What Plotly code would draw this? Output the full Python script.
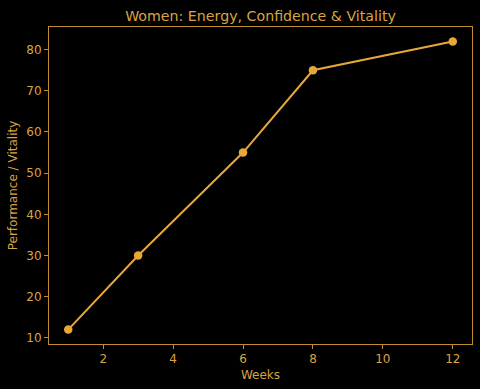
import plotly.graph_objects as go

weeks = [1, 3, 6, 8, 12]
vitality = [12, 30, 55, 75, 82]
x_ticks = [2, 4, 6, 8, 10, 12]
y_ticks = [10, 20, 30, 40, 50, 60, 70, 80]

line_color = "#E8A838"
text_color = "#D9A440"
frame_color = "#C0902F"
font = "DejaVu Sans"

fig = go.Figure()
fig.add_trace(go.Scatter(
    x=weeks, y=vitality, mode="lines+markers",
    line=dict(color=line_color, width=2),
    marker=dict(color=line_color, size=8.5),
    showlegend=False,
))

axis_common = dict(
    showgrid=False, zeroline=False, showline=True, mirror=True,
    linecolor=frame_color, linewidth=1,
    ticks="outside", ticklen=4, tickcolor=frame_color, tickwidth=1,
    tickfont=dict(family=font, size=12, color=text_color),
    automargin=False,
)

fig.update_layout(
    width=480, height=389,
    paper_bgcolor="black", plot_bgcolor="black",
    margin=dict(l=49, r=8, t=27, b=45),
    title=dict(text="Women: Energy, Confidence & Vitality",
               font=dict(family=font, size=14.2, color=text_color),
               x=0.5, xanchor="center", xref="paper", y=0.958, yref="container", yanchor="middle"),
    xaxis=dict(range=[0.45, 12.55], tickvals=x_ticks,
               title=dict(text="Weeks", font=dict(family=font, size=12, color=text_color), standoff=5),
               **axis_common),
    yaxis=dict(range=[8.5, 85.5], tickvals=y_ticks,
               title=dict(text="Performance / Vitality", font=dict(family=font, size=12, color=text_color), standoff=6),
               **axis_common),
)

fig.write_html("out.html", config={"displayModeBar": False},
               post_script="document.body.style.margin='0';document.body.style.background='black';")
